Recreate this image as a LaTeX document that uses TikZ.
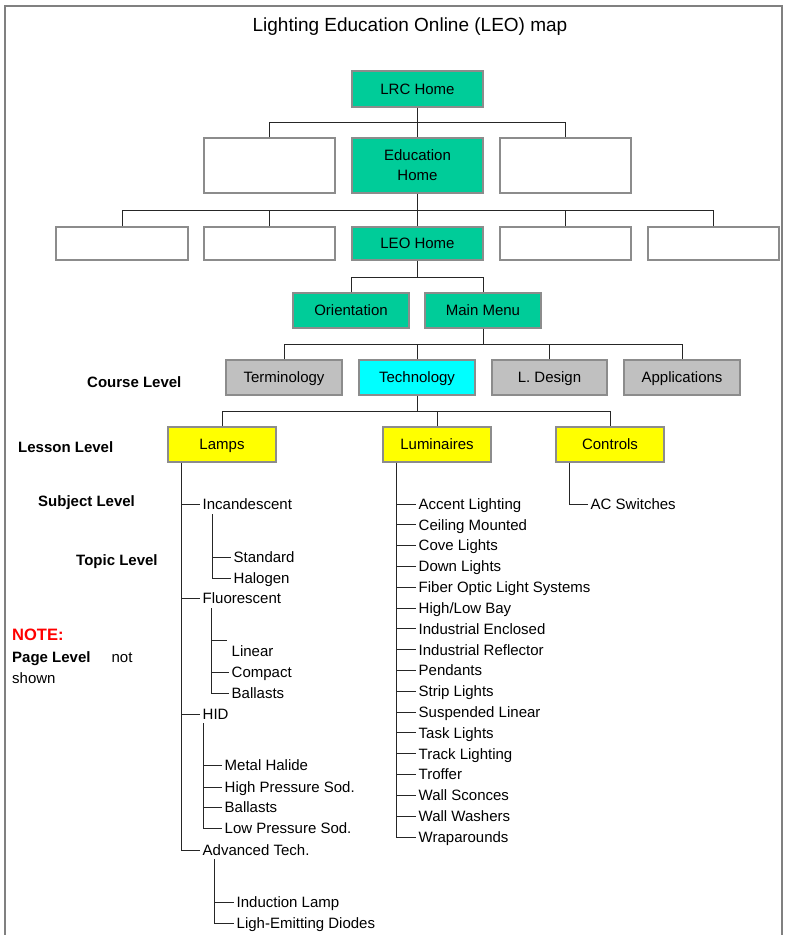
\documentclass[tikz,border=0pt]{standalone}
\usepackage{fontspec}
\setmainfont{Liberation Sans}
\usetikzlibrary{calc}
\definecolor{lrcgreen}{RGB}{0,204,153}
\definecolor{coursegray}{RGB}{192,192,192}
\definecolor{techcyan}{RGB}{0,255,255}
\definecolor{lessonyellow}{RGB}{255,255,0}
\definecolor{boxgray}{RGB}{140,140,140}
\definecolor{framegray}{RGB}{128,128,128}
\definecolor{notered}{RGB}{255,0,0}
\begin{document}
\begin{tikzpicture}[x=1pt,y=-1pt,
  every node/.style={font=\fontsize{15}{18}\selectfont},
  box/.style={draw=boxgray,line width=1.1pt,inner sep=0pt,text height=10.7pt,text depth=0pt},
  twoline/.style={draw=boxgray,line width=1.1pt,inner sep=0pt,align=center,font=\fontsize{15}{20}\selectfont},
  conn/.style={draw=black!85,line width=1pt},
  frame/.style={draw=framegray,line width=1.8pt},
  item/.style={anchor=west,inner xsep=2.5pt,inner ysep=0pt,text height=10.7pt,text depth=0pt},
  levellabel/.style={anchor=west,inner sep=0pt,text height=10.7pt,text depth=0pt,font=\fontsize{15}{18}\selectfont\bfseries},
  titletext/.style={inner sep=0pt,text height=13.6pt,text depth=0pt,font=\fontsize{19}{22}\selectfont}
]
\path[use as bounding box] (0,0) rectangle (785,935);
\draw[frame] (5,935) -- (5,6) -- (782,6) -- (782,935);

\node[titletext] (title) at (410,25) {Lighting Education Online (LEO) map};

% top levels
\node[box,fill=lrcgreen,minimum width=131pt,minimum height=36pt] (lrc) at (417.5,89) {LRC Home};
\node[twoline,fill=lrcgreen,minimum width=131pt,minimum height=55pt] (edu) at (417.5,165.5) {Education\\Home};
\node[box,minimum width=131pt,minimum height=55pt] (bl1) at (269.5,165.5) {};
\node[box,minimum width=131pt,minimum height=55pt] (bl2) at (565.5,165.5) {};
\node[box,minimum width=132pt,minimum height=33pt] (b3) at (122,243.5) {};
\node[box,minimum width=131pt,minimum height=33pt] (b4) at (269.5,243.5) {};
\node[box,fill=lrcgreen,minimum width=131pt,minimum height=33pt] (leo) at (417.5,243.5) {LEO Home};
\node[box,minimum width=131pt,minimum height=33pt] (b5) at (565.5,243.5) {};
\node[box,minimum width=131pt,minimum height=33pt] (b6) at (713.5,243.5) {};
\node[box,fill=lrcgreen,minimum width=116pt,minimum height=35pt] (orient) at (351,310.5) {Orientation};
\node[box,fill=lrcgreen,minimum width=116pt,minimum height=35pt] (mmenu) at (483,310.5) {Main Menu};

% course level
\node[box,fill=coursegray,minimum width=116pt,minimum height=35pt] (term) at (284,377.5) {Terminology};
\node[box,fill=techcyan,minimum width=116pt,minimum height=35pt] (tech) at (417,377.5) {Technology};
\node[box,fill=coursegray,minimum width=115pt,minimum height=35pt] (ldes) at (549.5,377.5) {L. Design};
\node[box,fill=coursegray,minimum width=116pt,minimum height=35pt] (appl) at (682,377.5) {Applications};

% lesson level
\node[box,fill=lessonyellow,minimum width=108pt,minimum height=35pt] (lamps) at (222,444.5) {Lamps};
\node[box,fill=lessonyellow,minimum width=108pt,minimum height=35pt] (lum) at (437,444.5) {Luminaires};
\node[box,fill=lessonyellow,minimum width=108pt,minimum height=35pt] (ctrl) at (610,444.5) {Controls};

% level labels
\node[levellabel] (course) at (87,382) {Course Level};
\node[levellabel] (lesson) at (18,447) {Lesson Level};
\node[levellabel] (subject) at (38,501) {Subject Level};
\node[levellabel] (topic) at (76,560) {Topic Level};
\node[levellabel,text=notered,font=\fontsize{16.5}{19}\selectfont\bfseries,text height=11.8pt] (note) at (12,635) {NOTE:};
\node[anchor=west,inner sep=0pt,text height=10.7pt,text depth=0pt] (pagelvl) at (12,657) {\textbf{Page Level}\hspace{21pt}not};
\node[anchor=west,inner sep=0pt,text height=10.7pt,text depth=0pt] (shown) at (12,678) {shown};

% bus coordinates
\coordinate (bus1) at (0,122);
\coordinate (bus2) at (0,210);
\coordinate (bus3) at (0,277);
\coordinate (bus4) at (0,344);
\coordinate (bus5) at (0,411);

\draw[conn] (lrc.south) -- (edu.north);
\draw[conn] (bl1.north) -- (bl1.north |- bus1) -- (bl2.north |- bus1) -- (bl2.north);
\draw[conn] (edu.south) -- (leo.north);
\draw[conn] (b3.north) -- (b3.north |- bus2) -- (b6.north |- bus2) -- (b6.north);
\draw[conn] (b4.north) -- (b4.north |- bus2);
\draw[conn] (b5.north) -- (b5.north |- bus2);
\draw[conn] (leo.south) -- (leo.south |- bus3);
\draw[conn] (orient.north) -- (orient.north |- bus3) -- (mmenu.north |- bus3) -- (mmenu.north);
\draw[conn] (mmenu.south) -- (mmenu.south |- bus4);
\draw[conn] (term.north) -- (term.north |- bus4) -- (appl.north |- bus4) -- (appl.north);
\draw[conn] (tech.north) -- (tech.north |- bus4);
\draw[conn] (ldes.north) -- (ldes.north |- bus4);
\draw[conn] (tech.south) -- (tech.south |- bus5);
\draw[conn] (lamps.north) -- (lamps.north |- bus5) -- (ctrl.north |- bus5) -- (ctrl.north);
\draw[conn] (lum.north) -- (lum.north |- bus5);

% Lamps subtree
\node[item] (incand) at (200,504) {Incandescent};
\node[item] (fluor) at (200,598) {Fluorescent};
\node[item] (hid) at (200,714) {HID};
\node[item] (advt) at (200,850) {Advanced Tech.};
\coordinate (lampx) at ($(lamps.south west)+(14,0)$);
\draw[conn] (lampx) |- (advt.west);
\draw[conn] (lampx |- incand.west) -- (incand.west);
\draw[conn] (lampx |- fluor.west) -- (fluor.west);
\draw[conn] (lampx |- hid.west) -- (hid.west);

\node[item] (standard) at (231,557) {Standard};
\node[item] (halogen) at (231,578) {Halogen};
\coordinate (incx) at (212,514);
\draw[conn] (incx) |- (halogen.west);
\draw[conn] (incx |- standard.west) -- (standard.west);

\node[item] (linear) at (229,651) {Linear};
\node[item] (compact) at (229,672) {Compact};
\node[item] (ballastsA) at (229,693) {Ballasts};
\coordinate (fluox) at (211,608);
\coordinate (lintick) at (227,640);
\draw[conn] (fluox) |- (ballastsA.west);
\draw[conn] (fluox |- lintick) -- (lintick);
\draw[conn] (fluox |- compact.west) -- (compact.west);

\node[item] (mh) at (222,765) {Metal Halide};
\node[item] (hps) at (222,787) {High Pressure Sod.};
\node[item] (ballastsB) at (222,807) {Ballasts};
\node[item] (lps) at (222,828) {Low Pressure Sod.};
\coordinate (hidx) at (203,723);
\draw[conn] (hidx) |- (lps.west);
\draw[conn] (hidx |- mh.west) -- (mh.west);
\draw[conn] (hidx |- hps.west) -- (hps.west);
\draw[conn] (hidx |- ballastsB.west) -- (ballastsB.west);

\node[item] (induct) at (234,902) {Induction Lamp};
\node[item] (led) at (234,923) {Ligh-Emitting Diodes};
\coordinate (advx) at (214,859);
\draw[conn] (advx) |- (led.west);
\draw[conn] (advx |- induct.west) -- (induct.west);

% Luminaires subtree
\coordinate (lumx) at ($(lum.south west)+(14,0)$);
\foreach \t [count=\i from 0] in {Accent Lighting,Ceiling Mounted,Cove Lights,Down Lights,Fiber Optic Light Systems,High/Low Bay,Industrial Enclosed,Industrial Reflector,Pendants,Strip Lights,Suspended Linear,Task Lights,Track Lighting,Troffer,Wall Sconces,Wall Washers}{
  \node[item] (lum\i) at (416,504+\i*20.81) {\t};
  \draw[conn] (lumx |- lum\i.west) -- (lum\i.west);
}
\node[item] (wrap) at (416,837) {Wraparounds};
\draw[conn] (lumx) |- (wrap.west);

% Controls subtree
\node[item] (acsw) at (588,504) {AC Switches};
\coordinate (ctrlx) at ($(ctrl.south west)+(14,0)$);
\draw[conn] (ctrlx) |- (acsw.west);
\end{tikzpicture}
\end{document}
